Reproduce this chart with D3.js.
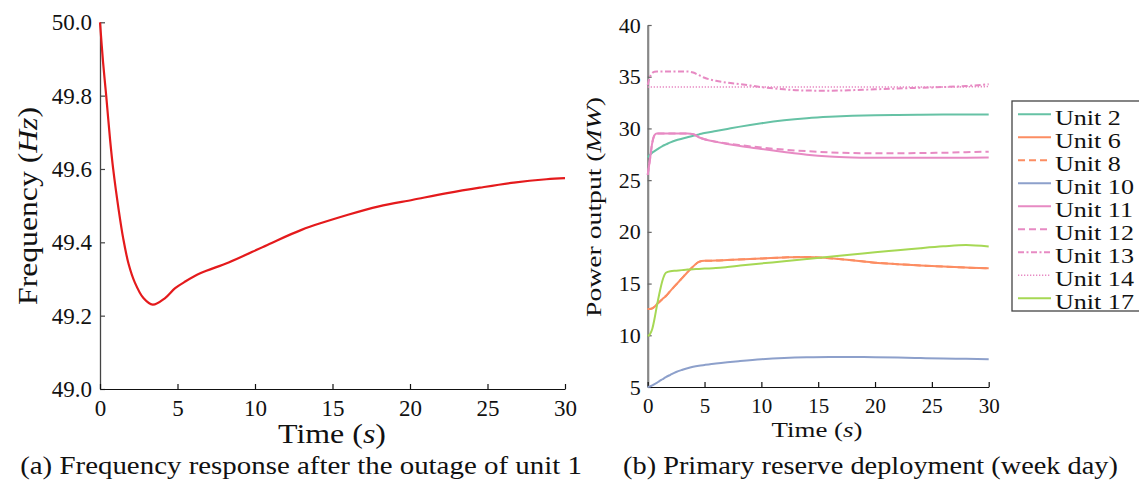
<!DOCTYPE html>
<html><head><meta charset="utf-8">
<script src="https://cdn.jsdelivr.net/npm/d3@7"></script>
<style>
html,body{margin:0;padding:0;background:#fff;}
svg text{font-family:"Liberation Serif","Times New Roman",serif;fill:#111;}
</style></head><body>
<svg id="c" width="1139" height="482"></svg>
<script>
// ---------- data ----------
const freqTime   = [0, 0.2, 0.4, 0.65, 0.85, 1.2, 1.5, 1.85, 2.25, 2.8, 3.4, 4.2, 4.85, 5.5, 6.5, 8.3, 10.8, 13.0, 16.0, 18.0, 20.2, 22.4, 24.5, 26.7, 28.8, 30];
const freqValues = [50.0, 49.89, 49.80, 49.68, 49.60, 49.49, 49.41, 49.34, 49.29, 49.248, 49.230, 49.248, 49.275, 49.293, 49.316, 49.345, 49.393, 49.434, 49.475, 49.498, 49.516, 49.534, 49.549, 49.563, 49.572, 49.575];

const unitTime = [0, 0.2, 0.4, 0.6, 0.8, 1, 1.3, 1.6, 2, 2.5, 3, 3.5, 4, 4.5, 5, 6, 7, 8, 10, 12, 14, 16, 18, 20, 22, 24, 26, 28, 30];
const unit2  = [27.2, 27.45, 27.65, 27.8, 27.95, 28.1, 28.3, 28.45, 28.65, 28.85, 29.0, 29.15, 29.3, 29.42, 29.55, 29.75, 29.95, 30.15, 30.5, 30.78, 30.98, 31.12, 31.22, 31.28, 31.31, 31.33, 31.34, 31.34, 31.34];
const unit6  = [12.55, 12.55, 12.6, 12.75, 13.0, 13.2, 13.5, 13.8, 14.3, 14.9, 15.5, 16.1, 16.65, 17.1, 17.2, 17.22, 17.27, 17.32, 17.42, 17.52, 17.58, 17.45, 17.25, 17.02, 16.88, 16.75, 16.64, 16.55, 16.47];
const unit8  = [12.55, 12.55, 12.6, 12.75, 13.0, 13.2, 13.5, 13.8, 14.3, 14.9, 15.5, 16.1, 16.65, 17.1, 17.2, 17.22, 17.27, 17.32, 17.42, 17.52, 17.58, 17.45, 17.25, 17.02, 16.88, 16.75, 16.64, 16.55, 16.47];
const unit10 = [5.0, 5.05, 5.15, 5.28, 5.4, 5.55, 5.75, 5.95, 6.18, 6.45, 6.65, 6.82, 6.95, 7.05, 7.13, 7.28, 7.4, 7.5, 7.68, 7.8, 7.87, 7.9, 7.9, 7.88, 7.85, 7.8, 7.75, 7.72, 7.68];
const unit11 = [25.5, 27.0, 28.6, 29.35, 29.5, 29.5, 29.5, 29.5, 29.5, 29.5, 29.5, 29.5, 29.45, 29.15, 28.95, 28.7, 28.5, 28.32, 28.02, 27.72, 27.45, 27.28, 27.2, 27.17, 27.16, 27.16, 27.16, 27.17, 27.2];
const unit12 = [25.5, 27.0, 28.6, 29.35, 29.5, 29.5, 29.5, 29.5, 29.5, 29.5, 29.5, 29.5, 29.45, 29.15, 28.95, 28.72, 28.55, 28.4, 28.15, 27.95, 27.8, 27.68, 27.62, 27.6, 27.6, 27.62, 27.65, 27.7, 27.75];
const unit13 = [34.2, 35.0, 35.35, 35.48, 35.5, 35.5, 35.5, 35.5, 35.5, 35.5, 35.5, 35.5, 35.4, 35.15, 34.9, 34.6, 34.42, 34.3, 34.0, 33.78, 33.66, 33.65, 33.7, 33.78, 33.86, 33.93, 34.0, 34.1, 34.27];
const unit14 = [34.0, 34.0, 34.0, 34.0, 34.0, 34.0, 34.0, 34.0, 34.0, 34.0, 34.0, 34.0, 34.0, 34.0, 34.0, 34.0, 34.0, 34.0, 34.0, 34.0, 34.0, 34.0, 34.0, 34.0, 34.0, 34.0, 34.0, 34.02, 34.05];
const unit17 = [9.93, 10.1, 10.6, 11.6, 12.8, 13.9, 15.3, 16.05, 16.2, 16.25, 16.3, 16.35, 16.38, 16.42, 16.45, 16.5, 16.6, 16.72, 16.95, 17.15, 17.38, 17.6, 17.8, 18.03, 18.22, 18.42, 18.6, 18.73, 18.58];

const unitNames = ["Unit 2", "Unit 6", "Unit 8", "Unit 10", "Unit 11", "Unit 12", "Unit 13", "Unit 14", "Unit 17"];
const unitSeries = [unit2, unit6, unit8, unit10, unit11, unit12, unit13, unit14, unit17];

const freqTicks  = [49.0, 49.2, 49.4, 49.6, 49.8, 50.0];
const timeTicks  = [0, 5, 10, 15, 20, 25, 30];
const powerTicks = [5, 10, 15, 20, 25, 30, 35, 40];

const captionA = "(a) Frequency response after the outage of unit 1";
const captionB = "(b) Primary reserve deployment (week day)";

// ---------- styles ----------
const unitStyle = {
  "Unit 2":  {color: "#66c2a5", dash: null},
  "Unit 6":  {color: "#fc8d62", dash: null},
  "Unit 8":  {color: "#fc8d62", dash: "7,4"},
  "Unit 10": {color: "#8da0cb", dash: null},
  "Unit 11": {color: "#e78ac3", dash: null},
  "Unit 12": {color: "#e78ac3", dash: "7,4"},
  "Unit 13": {color: "#e78ac3", dash: "6,2.5,2,2.5"},
  "Unit 14": {color: "#e78ac3", dash: "1.3,1.7", width: 1.6},
  "Unit 17": {color: "#a6d854", dash: null}
};

const svg = d3.select("#c");

function fitText(node, x, y, target, rot) {
  const w = node.getComputedTextLength();
  const k = target / w;
  d3.select(node).attr("transform", `translate(${x},${y})` + (rot ? ` rotate(${rot})` : "") + ` scale(${k},1)`);
}

// ---------- left chart ----------
const xL = d3.scaleLinear().domain([0, 30]).range([100, 565]);
const yL = d3.scaleLinear().domain([49, 50]).range([389, 22.3]);

const gLy = svg.append("g").attr("transform", `translate(${xL(0)},0)`)
  .call(d3.axisLeft(yL).tickValues(freqTicks).tickFormat(d3.format(".1f"))
        .tickSizeInner(-5).tickSizeOuter(0).tickPadding(8));
gLy.select(".domain").attr("stroke", "#444").attr("stroke-width", 1.3);
gLy.selectAll(".tick line").attr("stroke", "#444").attr("stroke-width", 1.2);
gLy.selectAll("text").attr("font-size", 23).attr("font-family", "Liberation Serif").attr("fill", "#111");

const gLx = svg.append("g").attr("transform", `translate(0,${yL(49)})`)
  .call(d3.axisBottom(xL).tickValues(timeTicks).tickFormat(d3.format("d"))
        .tickSizeInner(-5).tickSizeOuter(0).tickPadding(11));
gLx.select(".domain").attr("stroke", "#111").attr("stroke-width", 1.2);
gLx.selectAll(".tick line").attr("stroke", "#111").attr("stroke-width", 1.2);
gLx.selectAll("text").attr("font-size", 23).attr("font-family", "Liberation Serif").attr("fill", "#111");

svg.append("path")
  .datum(freqTime.map((t, i) => [t, freqValues[i]]))
  .attr("fill", "none").attr("stroke", "#e41a1c").attr("stroke-width", 2.2)
  .attr("d", d3.line().x(d => xL(d[0])).y(d => yL(d[1])).curve(d3.curveCatmullRom.alpha(0.5)));

// titles
const tLx = svg.append("text").attr("text-anchor", "middle").attr("font-size", 27);
tLx.append("tspan").text("Time (");
tLx.append("tspan").attr("font-style", "italic").text("s");
tLx.append("tspan").text(")");
fitText(tLx.node(), 332, 443, 108);

const tLy = svg.append("text").attr("text-anchor", "middle").attr("font-size", 27);
tLy.append("tspan").text("Frequency (");
tLy.append("tspan").attr("font-style", "italic").text("Hz");
tLy.append("tspan").text(")");
fitText(tLy.node(), 37, 206, 198, -90);

const cA = svg.append("text").attr("text-anchor", "middle").attr("font-size", 25).text(captionA);
fitText(cA.node(), 301, 474, 562);

// ---------- right chart ----------
const xR = d3.scaleLinear().domain([0, 30]).range([647.7, 988.7]);
const yR = d3.scaleLinear().domain([5, 40]).range([387, 25]);

const gRy = svg.append("g").attr("transform", `translate(${xR(0)},0)`)
  .call(d3.axisLeft(yR).tickValues(powerTicks).tickFormat(d3.format("d"))
        .tickSizeInner(-4).tickSizeOuter(0).tickPadding(7));
gRy.select(".domain").attr("stroke", "#888").attr("stroke-width", 2.2);
gRy.selectAll(".tick line").attr("stroke", "#666").attr("stroke-width", 1.2);
gRy.selectAll("text").attr("font-size", 22).attr("font-family", "Liberation Serif").attr("fill", "#111");

const gRx = svg.append("g").attr("transform", `translate(0,${yR(5)})`)
  .call(d3.axisBottom(xR).tickValues(timeTicks).tickFormat(d3.format("d"))
        .tickSizeInner(-5).tickSizeOuter(0).tickPadding(11));
gRx.select(".domain").attr("stroke", "#111").attr("stroke-width", 1.2);
gRx.selectAll(".tick line").attr("stroke", "#111").attr("stroke-width", 1.2);
gRx.selectAll("text").attr("font-size", 21).attr("font-family", "Liberation Serif").attr("fill", "#111");

const lineR = d3.line().x(d => xR(d[0])).y(d => yR(d[1])).curve(d3.curveMonotoneX);
unitNames.forEach((name, i) => {
  const st = unitStyle[name];
  svg.append("path")
    .datum(unitTime.map((t, j) => [t, unitSeries[i][j]]))
    .attr("fill", "none").attr("stroke", st.color).attr("stroke-width", st.width || 2)
    .attr("stroke-dasharray", st.dash)
    .attr("d", lineR);
});

const tRx = svg.append("text").attr("text-anchor", "middle").attr("font-size", 21);
tRx.append("tspan").text("Time (");
tRx.append("tspan").attr("font-style", "italic").text("s");
tRx.append("tspan").text(")");
fitText(tRx.node(), 817, 437, 91);

const tRy = svg.append("text").attr("text-anchor", "middle").attr("font-size", 22);
tRy.append("tspan").text("Power output (");
tRy.append("tspan").attr("font-style", "italic").text("MW");
tRy.append("tspan").text(")");
fitText(tRy.node(), 601, 207, 220, -90);

const cB = svg.append("text").attr("text-anchor", "middle").attr("font-size", 25).text(captionB);
fitText(cB.node(), 870.5, 474, 495);

// ---------- legend ----------
const lg = svg.append("g");
lg.append("rect").attr("x", 1012).attr("y", 101).attr("width", 140).attr("height", 210)
  .attr("fill", "#fff").attr("stroke", "#444").attr("stroke-width", 1.3);
let kLeg = 1;
unitNames.forEach((name, i) => {
  const st = unitStyle[name];
  lg.append("line").attr("x1", 1018).attr("x2", 1051)
    .attr("y1", 114.3 + 23 * i).attr("y2", 114.3 + 23 * i)
    .attr("stroke", st.color).attr("stroke-width", st.width || 2)
    .attr("stroke-dasharray", st.dash);
  const t = lg.append("text").attr("font-size", 22).text(name);
  if (name === "Unit 17") kLeg = 79 / t.node().getComputedTextLength();
});
lg.selectAll("text").attr("transform", (d, i) => `translate(1055,${125 + 23 * i}) scale(${kLeg},1)`);
</script>
</body></html>
